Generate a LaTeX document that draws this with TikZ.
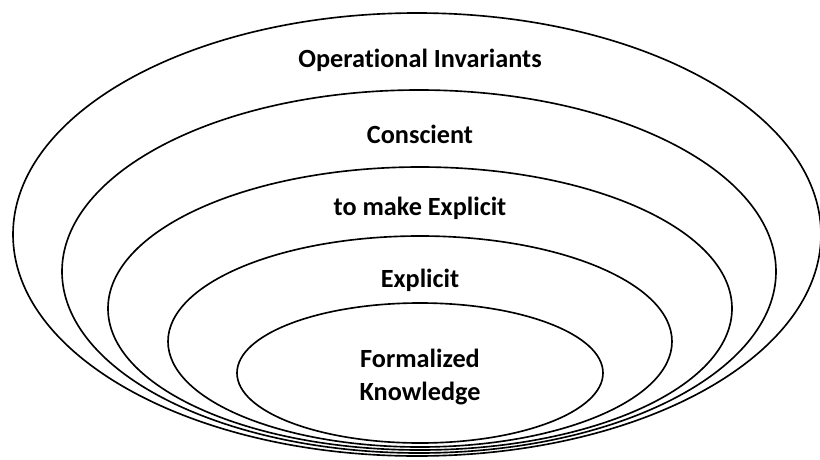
\documentclass[tikz,border=0pt]{standalone}
\usepackage{fontspec}
\setmainfont[Ligatures={NoCommon}]{Carlito}
\usepackage{tikz}

\tikzset{
    ring/.style={draw=black, line width=1.4pt},
    layer/.style={font=\fontsize{22.4}{28}\selectfont\bfseries, align=center, anchor=base}
}

\begin{document}
\begin{tikzpicture}[x=0.3mm, y=-0.3mm]
        \useasboundingbox (0,0) rectangle (820,459);

        % Nested levels, outermost first
        \draw[ring] (417,234.5) ellipse [x radius=404, y radius=221.5];
        \draw[ring] (419,271.5) ellipse [x radius=357, y radius=181.5];
        \draw[ring] (420,308.5) ellipse [x radius=312, y radius=141.5];
        \draw[ring] (420,341.5) ellipse [x radius=252, y radius=105.5];
        \draw[ring] (420,373) ellipse [x radius=183, y radius=70];

        % Level labels
        \node[layer] (opinv) at (420,67) {Operational Invariants};
        \node[layer] (consc) at (420,143) {Conscient};
        \node[layer] (tomake) at (420,215) {to make Explicit};
        \node[layer] (expl) at (420,287) {Explicit};
        \node[layer, anchor=center] (formal) at (420,377) {Formalized\\Knowledge};
    \end{tikzpicture}
\end{document}
